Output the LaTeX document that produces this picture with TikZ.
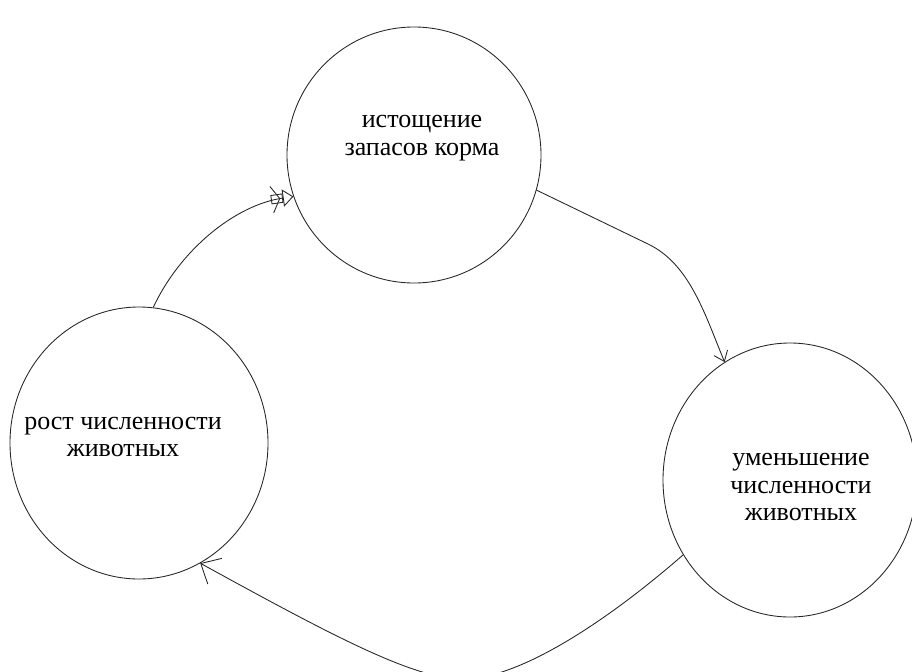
\documentclass[tikz,border=0pt]{standalone}
\usepackage{fontspec}
\setmainfont{Liberation Serif}
\newfontfamily\stagefont{Liberation Serif}
\usetikzlibrary{shapes.geometric,arrows.meta}

\begin{document}
\begin{tikzpicture}[
		x=0.75pt, y=-0.75pt,
		phase/.style={ellipse, draw=black!85, line width=0.65pt, inner sep=0pt},
		caption/.style={align=center, font=\stagefont\fontsize{19.5}{20.5}\selectfont},
		link/.style={draw=black!85, line width=0.65pt}
		]
		\clip (0,0) rectangle (912,671);
		% the three stages of the cycle
		\node[phase, minimum width=190.5pt, minimum height=192pt] (depletion) at (414,155) {};
		\node[phase, minimum width=193.5pt, minimum height=204pt] (growth) at (139,443) {};
		\node[phase, minimum width=190.5pt, minimum height=205.5pt] (decline) at (790,480) {};
		\node[caption] (depletion-txt) at (422,138) {истощение\\запасов корма};
		\node[caption] (growth-txt) at (123,437) {рост численности\\животных};
		\node[caption] (decline-txt) at (801,487) {уменьшение\\численности\\животных};
		% arrows between the stages
		\draw[link, -{Straight Barb[length=6pt,width=20pt,sep=-7pt] Square[open,length=9pt,width=7pt] Triangle[open,length=8pt,width=13pt]}]
			(growth.84) .. controls (180,250) and (235,205) .. (depletion.199);
		\draw[link, -{Straight Barb[length=7pt,width=11pt]}]
			(depletion.344) -- (648,244) .. controls (690,264) and (705,315) .. (decline.119);
		\draw[link, -{Straight Barb[length=12pt,width=22pt]}]
			(decline.215) .. controls (620,610) and (530,675) .. (468,679)
			.. controls (420,682) and (340,640) .. (growth.297);
	\end{tikzpicture}
\end{document}
